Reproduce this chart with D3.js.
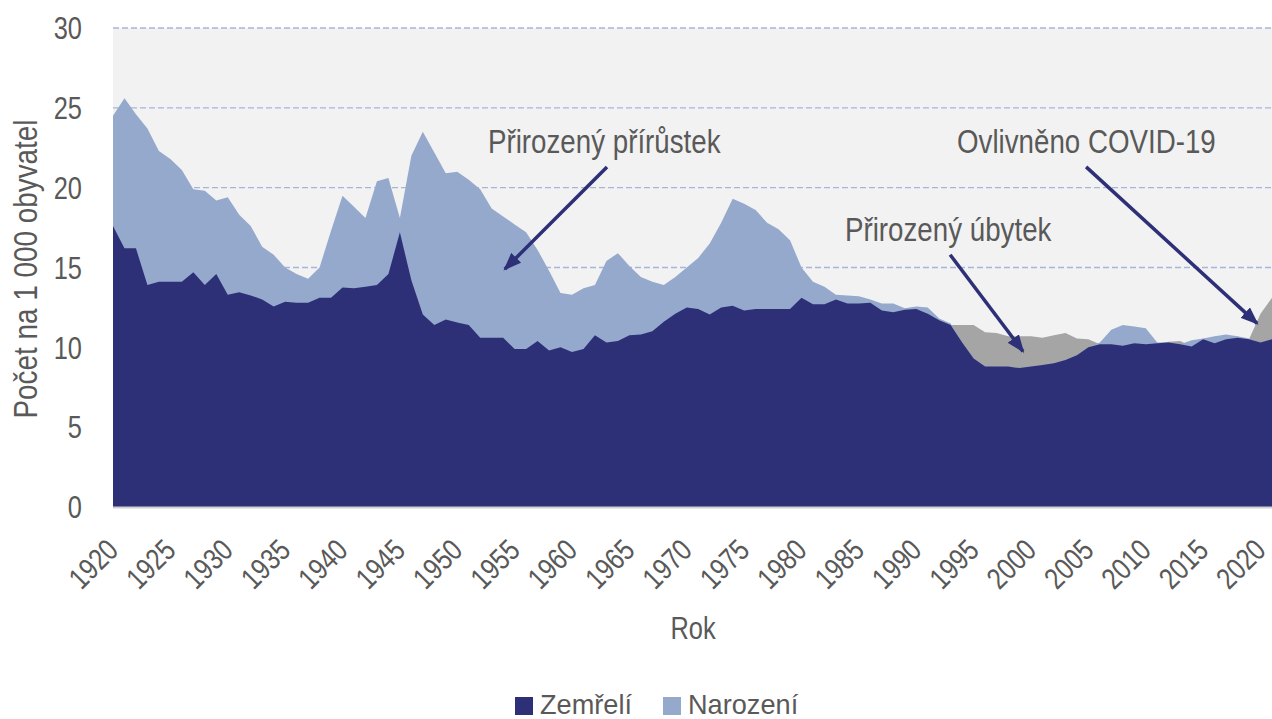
<!DOCTYPE html>
<html>
<head>
<meta charset="utf-8">
<script src="https://cdn.jsdelivr.net/npm/d3@7"></script>
<style>
  html, body { margin: 0; padding: 0; background: #ffffff; }
  svg { display: block; }
  text { font-family: "Liberation Sans", Arial, sans-serif; fill: #595959; }
</style>
</head>
<body>
<svg id="chart" width="1272" height="719"></svg>
<script>
// ---- data (per 1 000 inhabitants) ----
const years = d3.range(1920, 2022);
const births = [
  24.5, 25.6, 24.6, 23.7, 22.3, 21.8, 21.1, 19.9, 19.8, 19.2,
  19.4, 18.3, 17.6, 16.3, 15.8, 15.0, 14.6, 14.3, 15.0, 17.3,
  19.5, 18.8, 18.1, 20.4, 20.6, 18.1, 22.0, 23.5, 22.2, 20.9,
  21.0, 20.5, 19.9, 18.7, 18.2, 17.7, 17.2, 16.1, 14.8, 13.4,
  13.3, 13.7, 13.9, 15.4, 15.9, 15.1, 14.4, 14.1, 13.9, 14.4,
  15.0, 15.6, 16.5, 17.8, 19.3, 19.0, 18.6, 17.8, 17.4, 16.7,
  15.0, 14.1, 13.8, 13.3, 13.25, 13.2, 13.0, 12.75, 12.75, 12.45,
  12.55, 12.5, 11.8, 11.5, 10.3, 9.3, 8.8, 8.8, 8.8, 8.7,
  8.8, 8.9, 9.0, 9.2, 9.5, 10.0, 10.3, 11.1, 11.4, 11.3,
  11.2, 10.3, 10.3, 10.2, 10.45, 10.55, 10.7, 10.8, 10.7, 10.55,
  10.3, 10.5
];
const deaths = [
  17.6, 16.2, 16.2, 13.9, 14.1, 14.1, 14.1, 14.7, 13.9, 14.6,
  13.3, 13.45, 13.25, 13.0, 12.55, 12.85, 12.8, 12.8, 13.1, 13.1,
  13.75, 13.7, 13.8, 13.9, 14.6, 17.2, 14.2, 12.06, 11.4, 11.75,
  11.55, 11.4, 10.6, 10.6, 10.6, 9.9, 9.9, 10.4, 9.8, 10.0,
  9.7, 9.9, 10.75, 10.3, 10.4, 10.75, 10.8, 11.0, 11.6, 12.1,
  12.5, 12.4, 12.05, 12.5, 12.6, 12.3, 12.4, 12.4, 12.4, 12.4,
  13.1, 12.7, 12.7, 13.0, 12.75, 12.75, 12.8, 12.3, 12.2, 12.35,
  12.4, 12.1, 11.7, 11.4, 11.4, 11.4, 10.95, 10.9, 10.7, 10.7,
  10.7, 10.6, 10.75, 10.9, 10.55, 10.5, 10.2, 10.2, 10.1, 10.25,
  10.2, 10.25, 10.35, 10.4, 10.05, 10.5, 10.25, 10.5, 10.6, 10.5,
  12.1, 13.1
];
const yTicks = [0, 5, 10, 15, 20, 25, 30];
const xTickYears = d3.range(1920, 2021, 5);
const seriesNames = ["Zemřelí", "Narození"];
// arrow start/end in data units (year, value)
const annotations = [
  { text: "Přirozený přírůstek", x0: 1963.05, y0: 21.3, x1: 1954.15, y1: 14.9, tx: 488, ty: 153 },
  { text: "Přirozený úbytek",    x0: 1992.95, y0: 15.8, x1: 1999.3,  y1: 9.75, tx: 845, ty: 241 },
  { text: "Ovlivněno COVID-19",  x0: 2004.8,  y0: 21.3, x1: 2019.7,  y1: 11.5, tx: 957, ty: 153 }
];

const rows = years.map((yr, i) => ({ year: yr, b: births[i], d: deaths[i] }));

// ---- layout ----
const svg = d3.select("#chart");
const mLeft = 113, mRight = 1272, mTop = 28, mBottom = 507;
const x = d3.scaleLinear().domain([1920, 2021]).range([mLeft, mRight]);
const y = d3.scaleLinear().domain([0, 30]).range([mBottom, mTop]);
const NARROW = 0.82; // condensed look

const colDeath = "#2e3077", colBirth = "#95a9cd", colDecrease = "#a5a5a5";

// plot background
svg.append("rect").attr("x", mLeft).attr("y", mTop)
  .attr("width", mRight - mLeft).attr("height", mBottom - mTop).attr("fill", "#f2f2f2");

// gridlines
svg.append("g").selectAll("line").data(yTicks.filter(t => t > 0)).join("line")
  .attr("x1", mLeft).attr("x2", mRight)
  .attr("y1", d => y(d)).attr("y2", d => y(d))
  .attr("stroke", "#a6b6da").attr("stroke-width", 1.3)
  .attr("stroke-dasharray", "6,3");

// areas
const area = acc => d3.area().x(d => x(d.year)).y0(y(0)).y1(d => y(acc(d)));
svg.append("path").datum(rows).attr("fill", colDecrease).attr("d", area(d => d.d));
svg.append("path").datum(rows).attr("fill", colBirth).attr("d", area(d => d.b));
svg.append("path").datum(rows).attr("fill", colDeath).attr("d", area(d => Math.min(d.b, d.d)));

// bottom axis line
svg.append("line").attr("x1", mLeft).attr("x2", mRight)
  .attr("y1", mBottom + 0.5).attr("y2", mBottom + 0.5)
  .attr("stroke", "#d0d0d0").attr("stroke-width", 2);

// y tick labels
svg.append("g").selectAll("text").data(yTicks).join("text")
  .attr("transform", d => `translate(82,${y(d)}) scale(${NARROW},1)`)
  .attr("dy", "0.36em").attr("text-anchor", "end").style("font-size", "31px")
  .text(d => d);

// x tick labels
svg.append("g").selectAll("text").data(xTickYears).join("text")
  .attr("text-anchor", "end").style("font-size", "30px")
  .attr("transform", d => `translate(${x(d) + 7},552) rotate(-45) scale(${NARROW},1)`)
  .text(d => d);

// axis titles
svg.append("text").attr("transform", `translate(37,269) rotate(-90) scale(${NARROW},1)`)
  .attr("text-anchor", "middle").style("font-size", "34px")
  .text("Počet na 1 000 obyvatel");
svg.append("text").attr("transform", `translate(693,639) scale(${NARROW},1)`)
  .attr("text-anchor", "middle").style("font-size", "31px").text("Rok");

// legend
const leg = svg.append("g");
const legItems = [
  { name: seriesNames[0], color: colDeath, sx: 515, tx: 540 },
  { name: seriesNames[1], color: colBirth, sx: 663, tx: 688 }
];
legItems.forEach(it => {
  leg.append("rect").attr("x", it.sx).attr("y", 697).attr("width", 18).attr("height", 18).attr("fill", it.color);
  leg.append("text").attr("transform", `translate(${it.tx},714) scale(0.97,1)`)
    .style("font-size", "28px").text(it.name);
});

// annotations
const defs = svg.append("defs");
defs.append("marker").attr("id", "ah").attr("markerUnits", "userSpaceOnUse")
  .attr("viewBox", "0 0 18 14").attr("refX", 16).attr("refY", 7)
  .attr("markerWidth", 18).attr("markerHeight", 14).attr("orient", "auto")
  .append("path").attr("d", "M0,0 L18,7 L0,14 Z").attr("fill", colDeath);

annotations.forEach(a => {
  svg.append("text").attr("transform", `translate(${a.tx},${a.ty}) scale(0.84,1)`)
    .style("font-size", "33px").text(a.text);
  svg.append("line")
    .attr("x1", x(a.x0)).attr("y1", y(a.y0)).attr("x2", x(a.x1)).attr("y2", y(a.y1))
    .attr("stroke", colDeath).attr("stroke-width", 3.5).attr("marker-end", "url(#ah)");
});
</script>
</body>
</html>
